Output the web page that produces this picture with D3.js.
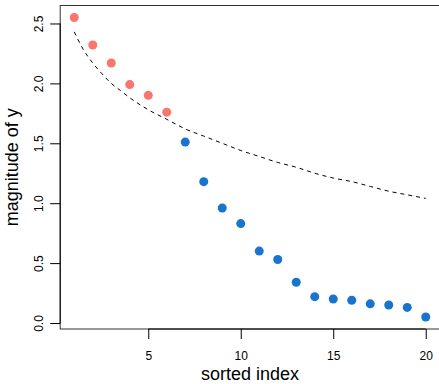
<!DOCTYPE html>
<html>
<head>
<meta charset="utf-8">
<script src="https://cdn.jsdelivr.net/npm/d3@7"></script>
<style>
  html, body { margin: 0; padding: 0; background: #fff; }
  svg { display: block; }
  text { font-family: "Liberation Sans", Arial, Helvetica, sans-serif; fill: #000; }
</style>
</head>
<body>
<script>
// sorted magnitudes |y| by index
const sortedIndex = d3.range(1, 21);
const magnitude = [2.55, 2.32, 2.17, 1.99, 1.90, 1.76, 1.51, 1.18, 0.96, 0.83,
                   0.60, 0.53, 0.34, 0.22, 0.20, 0.19, 0.16, 0.15, 0.13, 0.05];
// first six points are selected (above the threshold curve)
const selectedCount = 6;
const selectedColor = "#F8766D";
const otherColor = "#1874CD";

// threshold curve values at each index
const curveIndex = [1, 1.5, 2, 2.5, 3, 3.5, 4, 5, 6, 7, 8, 9, 10, 11, 12, 13, 14, 15, 16, 17, 18, 19, 20];
const curveValue = [2.43, 2.28, 2.17, 2.08, 2.00, 1.94, 1.88, 1.78, 1.70, 1.62, 1.56, 1.50, 1.44,
                    1.39, 1.34, 1.30, 1.25, 1.21, 1.18, 1.14, 1.10, 1.07, 1.04];

const xTicks = [5, 10, 15, 20];
const yTicks = [0, 0.5, 1, 1.5, 2, 2.5];

const W = 439, H = 384;
const plot = { left: 60.2, right: 439.8, top: 5.5, bottom: 329 };

const svg = d3.select("body").append("svg").attr("width", W).attr("height", H);

// R-style 4% axis extension
const xr = d3.extent(sortedIndex), yr = d3.extent(magnitude);
const xpad = (xr[1] - xr[0]) * 0.04, ypad = (yr[1] - yr[0]) * 0.04;
const x = d3.scaleLinear().domain([xr[0] - xpad, xr[1] + xpad]).range([plot.left, plot.right]);
const y = d3.scaleLinear().domain([yr[0] - ypad, yr[1] + ypad]).range([plot.bottom, plot.top]);

// frame
svg.append("rect")
  .attr("x", plot.left).attr("y", plot.top)
  .attr("width", plot.right - plot.left).attr("height", plot.bottom - plot.top)
  .attr("fill", "none").attr("stroke", "#333").attr("stroke-width", 1);

// x axis
const gx = svg.append("g").attr("transform", `translate(0,${plot.bottom})`)
  .call(d3.axisBottom(x).tickValues(xTicks).tickSize(10).tickPadding(12).tickFormat(d3.format("d")));
gx.select(".domain").remove();
gx.selectAll(".tick line").attr("stroke", "#000");
gx.selectAll("text").attr("font-size", 12);
svg.append("line")
  .attr("x1", x(xTicks[0])).attr("x2", x(xTicks[xTicks.length - 1]))
  .attr("y1", plot.bottom).attr("y2", plot.bottom)
  .attr("stroke", "#000");

// y axis with rotated labels
const gy = svg.append("g").attr("transform", `translate(${plot.left},0)`)
  .call(d3.axisLeft(y).tickValues(yTicks).tickSize(10).tickFormat(d3.format(".1f")));
gy.select(".domain").remove();
gy.selectAll(".tick line").attr("stroke", "#000");
gy.selectAll(".tick text")
  .attr("font-size", 12)
  .attr("x", null).attr("dy", null)
  .attr("text-anchor", "middle")
  .attr("transform", "translate(-17,0) rotate(-90)");
svg.append("line")
  .attr("x1", plot.left).attr("x2", plot.left)
  .attr("y1", y(yTicks[0])).attr("y2", y(yTicks[yTicks.length - 1]))
  .attr("stroke", "#000");

// axis titles
svg.append("text")
  .attr("x", (plot.left + plot.right) / 2).attr("y", 380)
  .attr("text-anchor", "middle").attr("font-size", 18)
  .text("sorted index");
svg.append("text")
  .attr("transform", `translate(18,${(plot.top + plot.bottom) / 2}) rotate(-90)`)
  .attr("text-anchor", "middle").attr("font-size", 18)
  .text("magnitude of y");

// dashed threshold curve
const line = d3.line().x(d => x(d[0])).y(d => y(d[1])).curve(d3.curveMonotoneX);
svg.append("path")
  .datum(curveIndex.map((c, i) => [c, curveValue[i]]))
  .attr("d", line)
  .attr("fill", "none").attr("stroke", "#000").attr("stroke-width", 1)
  .attr("stroke-dasharray", "4,4");

// points
svg.append("g").selectAll("circle")
  .data(sortedIndex.map((d, i) => ({ i: d, v: magnitude[i], sel: i < selectedCount })))
  .join("circle")
  .attr("cx", d => x(d.i)).attr("cy", d => y(d.v)).attr("r", 4.5)
  .attr("fill", d => d.sel ? selectedColor : otherColor);
</script>
</body>
</html>
